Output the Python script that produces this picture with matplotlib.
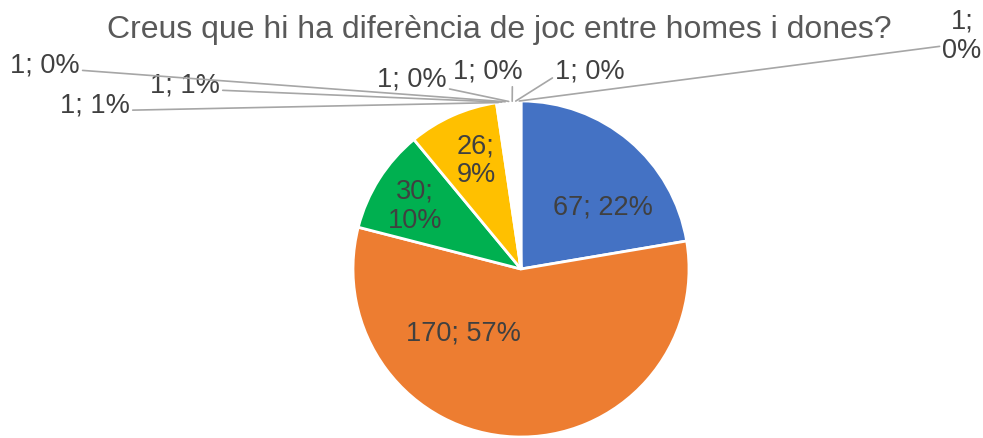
import numpy as np
import matplotlib.pyplot as plt

plt.rcParams['font.family'] = ['Liberation Sans', 'DejaVu Sans']

# data
values = [67, 170, 30, 26, 1, 1, 1, 1, 1, 1, 1]
pcts = [22, 57, 10, 9, 1, 1, 0, 0, 0, 0, 0]
colors = ['#4472C4', '#ED7D31', '#00B050', '#FFC000'] + ['#FFFFFF'] * 7
title = "Creus que hi ha diferència de joc entre homes i dones?"

# label placement (pixels from top-left of the image)
W, H = 983, 439
center = (521, 270)
radius = 168
inner_pos = [(603, 207), (463, 333), (415, 206), (476, 161)]
inner_break = [False, False, True, True]
outer_pos = [(95, 106), (185, 86), (45, 66), (412, 79), (488, 72), (590, 72), (962, 36)]
outer_rel = [(1, 0.3), (1, 0.3), (1, 0.3), (1, 0.1), (0.85, 0), (0, 0.3), (0, 0.3)]
outer_break = [False] * 6 + [True]

fig = plt.figure(figsize=(W / 100, H / 100), dpi=100)
ax = fig.add_axes([0, 0, 1, 1])

cx, cy = center[0], H - center[1]
wedges, _ = ax.pie(values, colors=colors, startangle=90, counterclock=False,
                   center=(cx, cy), radius=radius, frame=True,
                   wedgeprops=dict(edgecolor='white', linewidth=2))
ax.set_xlim(0, W)
ax.set_ylim(0, H)
ax.set_aspect('equal')
ax.axis('off')

txt_col = '#404040'
fs = 19.5

for i, (x, y) in enumerate(inner_pos):
    s = f"{values[i]};\n{pcts[i]}%" if inner_break[i] else f"{values[i]}; {pcts[i]}%"
    ax.text(x, H - y, s, ha='center', va='center', fontsize=fs, color=txt_col,
            linespacing=1.15)

for k, (x, y) in enumerate(outer_pos):
    i = 4 + k
    w = wedges[i]
    mid = np.deg2rad((w.theta1 + w.theta2) / 2)
    anchor = (cx + radius * np.cos(mid), cy + radius * np.sin(mid))
    s = f"{values[i]};\n{pcts[i]}%" if outer_break[k] else f"{values[i]}; {pcts[i]}%"
    ax.annotate(s, xy=anchor, xytext=(x, H - y), ha='center', va='center',
                fontsize=fs, color=txt_col, linespacing=1.15,
                arrowprops=dict(arrowstyle='-', color='#A6A6A6', lw=1.2,
                                shrinkA=0, shrinkB=0, relpos=outer_rel[k]))

ax.text(499, H - 30, title, ha='center', va='center', fontsize=23, color='#595959')

fig.savefig('out.png', dpi=100)
